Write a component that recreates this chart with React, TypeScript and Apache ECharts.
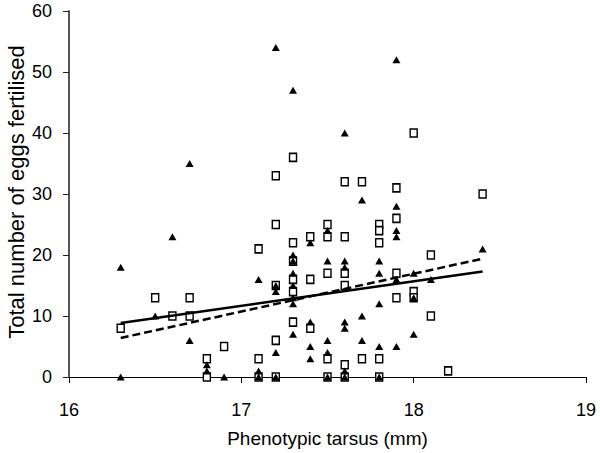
import React, { useEffect, useRef } from "react";
import * as echarts from "echarts";

// Open squares: [phenotypic tarsus (mm), total eggs fertilised]
const squarePoints: [number, number][] = [
  [16.3, 8], [16.5, 13], [16.6, 10], [16.7, 13], [16.7, 10], [16.8, 3], [16.8, 0], [16.9, 5],
  [17.1, 21], [17.1, 3], [17.1, 0],
  [17.2, 33], [17.2, 25], [17.2, 15], [17.2, 6], [17.2, 0],
  [17.3, 36], [17.3, 22], [17.3, 19], [17.3, 16], [17.3, 14], [17.3, 9],
  [17.4, 23], [17.4, 16], [17.4, 8],
  [17.5, 25], [17.5, 23], [17.5, 17], [17.5, 3], [17.5, 0],
  [17.6, 32], [17.6, 23], [17.6, 17], [17.6, 15], [17.6, 2], [17.6, 0],
  [17.7, 32], [17.7, 3],
  [17.8, 25], [17.8, 24], [17.8, 22], [17.8, 3], [17.8, 0],
  [17.9, 31], [17.9, 26], [17.9, 17], [17.9, 13],
  [18.0, 40], [18.0, 14], [18.0, 13],
  [18.1, 20], [18.1, 10], [18.2, 1], [18.4, 30],
];

// Filled triangles
const trianglePoints: [number, number][] = [
  [16.3, 18], [16.3, 0], [16.5, 10], [16.6, 23], [16.7, 35], [16.7, 6],
  [16.8, 2], [16.8, 1], [16.9, 0],
  [17.1, 16], [17.1, 1], [17.1, 0],
  [17.2, 54], [17.2, 15], [17.2, 14], [17.2, 4], [17.2, 0],
  [17.3, 47], [17.3, 20], [17.3, 19], [17.3, 17], [17.3, 15], [17.3, 13], [17.3, 12], [17.3, 7],
  [17.4, 22], [17.4, 9], [17.4, 5], [17.4, 3],
  [17.5, 24], [17.5, 19], [17.5, 6], [17.5, 4], [17.5, 0],
  [17.6, 40], [17.6, 19], [17.6, 18], [17.6, 9], [17.6, 8], [17.6, 1], [17.6, 0],
  [17.7, 29], [17.7, 10], [17.7, 6],
  [17.8, 19], [17.8, 17], [17.8, 12], [17.8, 5], [17.8, 0],
  [17.9, 52], [17.9, 28], [17.9, 24], [17.9, 23], [17.9, 16], [17.9, 5],
  [18.0, 17], [18.0, 13], [18.0, 7],
  [18.1, 16], [18.4, 21],
];

// Trend lines (end points)
const solidTrend: [number, number][] = [[16.3, 8.86], [18.4, 17.3]];
const dashedTrend: [number, number][] = [[16.3, 6.4], [18.4, 19.4]];

const xTicks = { min: 16, max: 19, interval: 1 };
const yTicks = { min: 0, max: 60, interval: 10 };

const xTitle = "Phenotypic tarsus (mm)";
const yTitle = "Total number of eggs fertilised";

export default function App() {
  const ref = useRef<HTMLDivElement>(null);
  useEffect(() => {
    if (!ref.current) return;
    const chart = echarts.init(ref.current, null, { renderer: "svg" });
    const font = "'Liberation Sans', Arial, sans-serif";
    chart.setOption({
      animation: false,
      backgroundColor: "#ffffff",
      grid: { left: 69, right: 14, top: 11, bottom: 73, containLabel: false },
      xAxis: {
        type: "value",
        min: xTicks.min,
        max: xTicks.max,
        interval: xTicks.interval,
        name: xTitle,
        nameLocation: "middle",
        nameGap: 52,
        nameTextStyle: { fontFamily: font, fontSize: 19, color: "#000" },
        axisLine: { show: true, onZero: false, lineStyle: { color: "#000", width: 1 } },
        axisTick: { show: true, inside: false, length: 6, lineStyle: { color: "#000" } },
        axisLabel: { fontFamily: font, fontSize: 18, color: "#000", margin: 24 },
        splitLine: { show: false },
      },
      yAxis: {
        type: "value",
        min: yTicks.min,
        max: yTicks.max,
        interval: yTicks.interval,
        axisLine: { show: true, lineStyle: { color: "#555", width: 2 } },
        axisTick: { show: true, inside: false, length: 6, lineStyle: { color: "#222" } },
        axisLabel: { fontFamily: font, fontSize: 18, color: "#000", margin: 17 },
        splitLine: { show: false },
      },
      graphic: [
        {
          type: "text",
          x: 16,
          y: 192,
          rotation: Math.PI / 2,
          style: {
            text: yTitle,
            font: `22px ${font}`,
            fill: "#000",
            textAlign: "center",
            textVerticalAlign: "middle",
          },
        },
      ],
      series: [
        {
          type: "scatter",
          data: squarePoints,
          symbol: "rect",
          symbolSize: [7, 8],
          itemStyle: { color: "#fff", borderColor: "#000", borderWidth: 1.5, opacity: 1 },
          z: 3,
        },
        {
          type: "scatter",
          data: trianglePoints,
          symbol: "triangle",
          symbolSize: [8, 7],
          itemStyle: { color: "#000", opacity: 1 },
          z: 4,
        },
        {
          type: "line",
          data: solidTrend,
          symbol: "none",
          lineStyle: { color: "#000", width: 2.5, type: "solid" },
          z: 5,
        },
        {
          type: "line",
          data: dashedTrend,
          symbol: "none",
          lineStyle: { color: "#000", width: 2.5, type: [8, 4] },
          z: 5,
        },
      ],
    });
    return () => chart.dispose();
  }, []);
  return <div ref={ref} style={{ width: 600, height: 453, position: "absolute", left: 0, top: 0 }} />;
}
